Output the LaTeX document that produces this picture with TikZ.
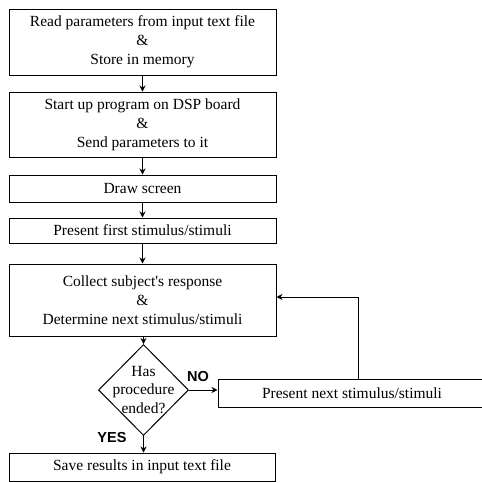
\documentclass[tikz,border=0pt]{standalone}
\usepackage{fontspec}
\setmainfont{Liberation Serif}
\newfontfamily\answerfont{Liberation Sans}
\usetikzlibrary{positioning, shapes.geometric, arrows.meta}

\tikzset{
	step box/.style={draw, line width=1pt, inner sep=0, align=center, font=\fontsize{15.5}{19}\selectfont},
	flow/.style={line width=0.9pt, -{Stealth[length=6pt, width=6pt]}},
	answer/.style={font=\answerfont\bfseries\fontsize{14.5}{16}\selectfont}
}

\begin{document}
\begin{tikzpicture}[x=1pt, y=-1pt]
		\useasboundingbox (0, 0) rectangle (482, 483);
		% main column of steps
		\node[step box, minimum width=267, minimum height=66] (read) at (142.5, 42) {Read parameters from input text file\\\&\\Store in memory};
		\node[step box, minimum width=267, minimum height=65] (start) at (142.5, 124.5) {Start up program on DSP board\\\&\\Send parameters to it};
		\node[step box, minimum width=267, minimum height=27] (screen) at (142.5, 188.5) {Draw screen};
		\node[step box, minimum width=267, minimum height=25] (first) at (142.5, 230.5) {Present first stimulus/stimuli};
		\node[step box, minimum width=267, minimum height=72] (collect) at (142.5, 300) {Collect subject\textquotesingle s response\\\&\\Determine next stimulus/stimuli};
		\node[draw, diamond, line width=1pt, minimum width=90, minimum height=91, inner sep=0] (ended) at (143.5, 390) {};
		\node[align=center, font=\fontsize{15.5}{18.5}\selectfont] (endedtext) at (ended.center) {Has\\procedure\\ended?};
		\node[step box, minimum width=266, minimum height=28] (save) at (142, 467) {Save results in input text file};
		% loop back
		\node[step box, minimum width=268, minimum height=28] (next) at (352, 393) {Present next stimulus/stimuli};
		\coordinate (turn) at (358, 297);
		\node[answer] (no) at (198, 377) {NO};
		\node[answer] (yes) at (112, 438) {YES};

		\draw[flow] (read) -- (start);
		\draw[flow] (start) -- (screen);
		\draw[flow] (screen) -- (first);
		\draw[flow] (first) -- (collect);
		\draw[flow] (collect.south -| ended.north) -- (ended.north);
		\draw[flow] (ended.south) -- (save.north -| ended.south);
		\draw[flow] (ended.east) -- (next.west |- ended.east);
		\draw[flow] (next.north -| turn) -- (turn) -- (collect.east |- turn);
	\end{tikzpicture}
\end{document}
